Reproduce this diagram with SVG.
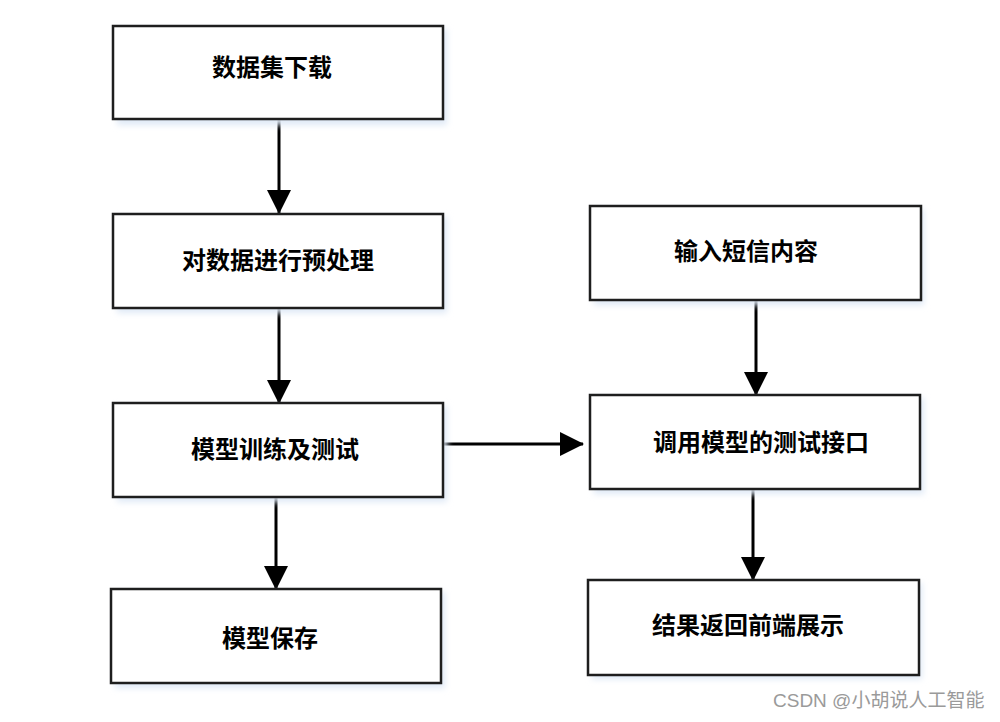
<svg xmlns="http://www.w3.org/2000/svg" width="1000" height="722" viewBox="0 0 1000 722">
<style>
.box{fill:#fff;stroke:#1e1e1e;stroke-width:2.5}
.sh{fill:#dfe9f6;filter:url(#blur)}
.lbl{font-family:"Noto Sans CJK SC","Noto Sans",sans-serif;font-weight:bold;font-size:24px;fill:#000;text-anchor:middle;dominant-baseline:central}
.edge{stroke:#000;stroke-width:3;fill:none;marker-end:url(#ah)}
.wm{font-family:"Liberation Sans","Noto Sans CJK SC",sans-serif;font-size:19px;fill:#9a9a9a}
</style>
<defs>
<filter id="blur" x="-10%" y="-20%" width="120%" height="140%"><feGaussianBlur stdDeviation="3"/></filter>
<marker id="ah" markerUnits="userSpaceOnUse" markerWidth="24" markerHeight="24" viewBox="0 0 24 24" refX="23" refY="12" orient="auto">
<path d="M0,0 L24,12 L0,24 Z" fill="#000"/>
</marker>
</defs>
<rect width="1000" height="722" fill="#fff"/>
<g id="connectors">
<line class="edge" x1="279" y1="120" x2="279" y2="213"/>
<line class="edge" x1="279" y1="309" x2="279" y2="403"/>
<line class="edge" x1="276" y1="498" x2="276" y2="589"/>
<line class="edge" x1="443" y1="444" x2="583" y2="444"/>
<line class="edge" x1="756" y1="301" x2="756" y2="395"/>
<line class="edge" x1="753" y1="490" x2="753" y2="580"/>
</g>
<g id="n1"><rect class="sh" x="117" y="29" width="330" height="96"/><rect class="box" x="113" y="26" width="330" height="93"/><text class="lbl" x="272" y="65">数据集下载</text></g>
<g id="n2"><rect class="sh" x="117" y="217" width="330" height="96"/><rect class="box" x="113" y="214" width="330" height="94"/><text class="lbl" x="278" y="258">对数据进行预处理</text></g>
<g id="n3"><rect class="sh" x="117" y="406" width="330" height="96"/><rect class="box" x="113" y="403" width="330" height="94"/><text class="lbl" x="275" y="447">模型训练及测试</text></g>
<g id="n4"><rect class="sh" x="115" y="592" width="330" height="96"/><rect class="box" x="111" y="589" width="330" height="94"/><text class="lbl" x="270" y="636">模型保存</text></g>
<g id="n5"><rect class="sh" x="594" y="209" width="330" height="96"/><rect class="box" x="590" y="206" width="331" height="94"/><text class="lbl" x="746" y="249">输入短信内容</text></g>
<g id="n6"><rect class="sh" x="594" y="398" width="330" height="96"/><rect class="box" x="590" y="395" width="330" height="94"/><text class="lbl" x="761" y="440">调用模型的测试接口</text></g>
<g id="n7"><rect class="sh" x="592" y="583" width="330" height="96"/><rect class="box" x="588" y="580" width="331" height="95"/><text class="lbl" x="748" y="623">结果返回前端展示</text></g>
<text class="wm" x="773" y="707">CSDN @小胡说人工智能</text>
</svg>
